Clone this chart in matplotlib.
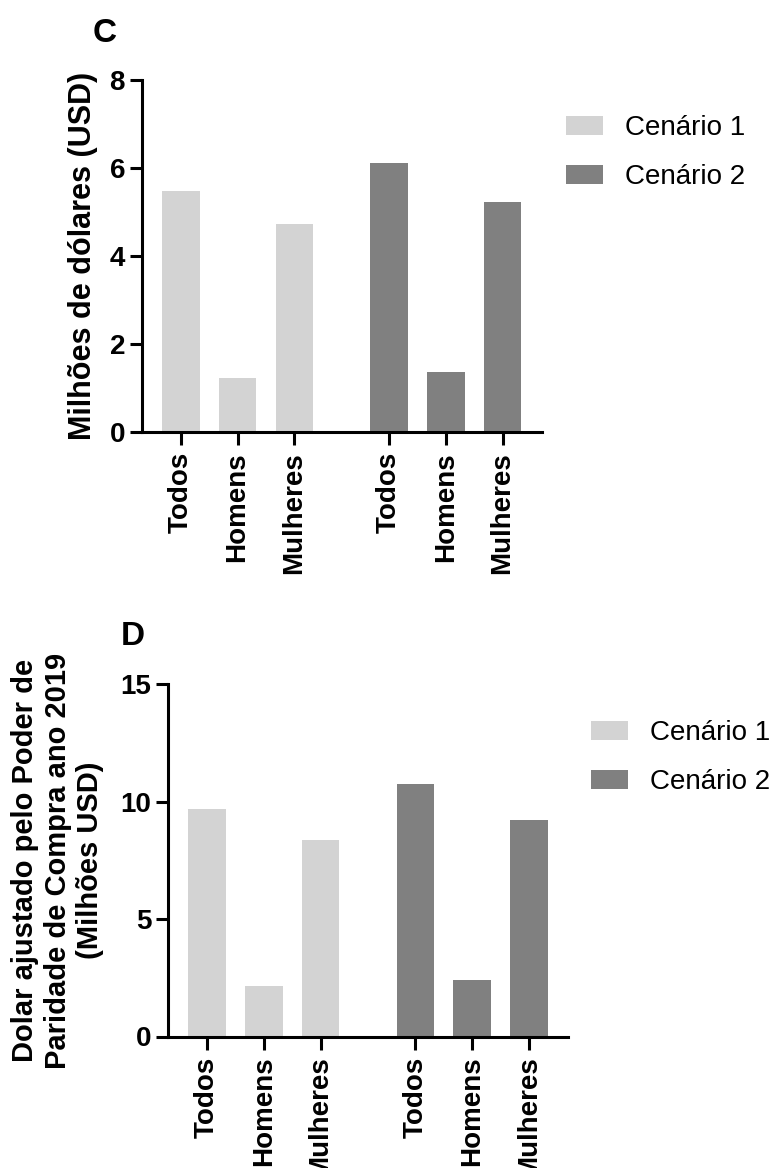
import matplotlib
matplotlib.use("Agg")
import matplotlib.pyplot as plt
import numpy as np

plt.rcParams['font.family'] = ['Liberation Sans', 'DejaVu Sans']

groups = ["Todos", "Homens", "Mulheres"]
scenarios = ["Cenário 1", "Cenário 2"]
colors = ["#D3D3D3", "#808080"]

# Panel C: millions of USD
usd_c1 = [5.48, 1.22, 4.72]
usd_c2 = [6.11, 1.36, 5.23]

# Panel D: PPP-adjusted dollars, 2019 (millions USD)
ppp_c1 = [9.70, 2.15, 8.35]
ppp_c2 = [10.77, 2.40, 9.22]

W, H = 778, 1168
fig = plt.figure(figsize=(W / 100, H / 100), dpi=100)

GROUP_GAP = 0.67
BAR_W = 0.66
LW = 2.2


def px_axes(left, top, right, bottom):
    return fig.add_axes([left / W, 1 - bottom / H, (right - left) / W, (bottom - top) / H])


def draw_panel(ax, series, ymax, yticks, ylabel, label_size, label_x, letter, letter_xy, legend_xy):
    n = len(groups)
    handles = []
    for i, (vals, col, name) in enumerate(zip(series, colors, scenarios)):
        x = np.arange(n) + i * (n + GROUP_GAP)
        b = ax.bar(x, vals, width=BAR_W, color=col, edgecolor='none', label=name)
        handles.append(b)
    xs = np.concatenate([np.arange(n) + i * (n + GROUP_GAP) for i in range(len(series))])
    ax.set_xticks(xs)
    ax.set_xticklabels(groups * len(series), rotation=90, fontsize=20, fontweight='bold')
    ax.set_xlim(-0.69, xs[-1] + 0.69)
    ax.set_ylim(0, ymax)
    ax.set_yticks(yticks)
    ax.set_yticklabels([str(t) for t in yticks], fontsize=20, fontweight='bold')
    for s in ['top', 'right']:
        ax.spines[s].set_visible(False)
    for s in ['left', 'bottom']:
        ax.spines[s].set_linewidth(LW)
    ax.tick_params(axis='x', length=9.5, width=LW, pad=5)
    ax.tick_params(axis='y', length=8.5, width=LW, pad=3.5)
    ax.set_ylabel(ylabel, fontsize=label_size, fontweight='bold', multialignment='center')
    ax.yaxis.set_label_coords(label_x, 0.5)
    fig.text(letter_xy[0] / W, 1 - letter_xy[1] / H, letter, fontsize=24,
             fontweight='bold', ha='left', va='baseline')
    ax.legend(handles=handles, loc='upper left',
              bbox_to_anchor=(legend_xy[0] / W, 1 - legend_xy[1] / H),
              bbox_transform=fig.transFigure, frameon=False, fontsize=20,
              borderpad=0, borderaxespad=0, handlelength=1.33, handleheight=0.68,
              handletextpad=0.8, labelspacing=0.84)


ax1 = px_axes(141.7, 80, 541.7, 432)
draw_panel(ax1, [usd_c1, usd_c2], 8, [0, 2, 4, 6, 8],
           "Milhões de dólares (USD)", 22, -0.108, "C", (93, 42), (566, 115))

ax2 = px_axes(168, 684.4, 568, 1036.5)
draw_panel(ax2, [ppp_c1, ppp_c2], 15, [0, 5, 10, 15],
           "Dolar ajustado pelo Poder de\nParidade de Compra ano 2019\n(Milhões USD)",
           21, -0.16, "D", (121, 645), (591, 720))

fig.savefig("out.png", dpi=100, facecolor='white')
